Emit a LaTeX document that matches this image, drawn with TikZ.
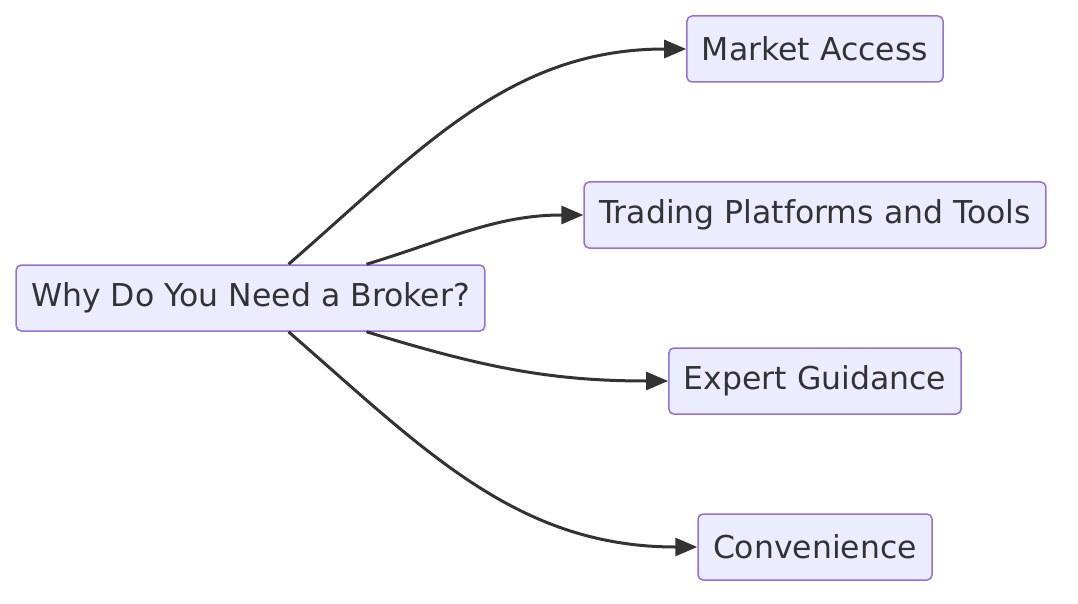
\documentclass[tikz,border=0pt]{standalone}
\usepackage{fontspec}
\setmainfont{DejaVu Sans}
\usepackage{tikz}
\usetikzlibrary{arrows.meta}
\definecolor{nodefill}{HTML}{ECECFF}
\definecolor{nodeline}{HTML}{9370DB}
\definecolor{edgeline}{HTML}{333333}
\begin{document}
\begin{tikzpicture}[x=1pt,y=-1pt,->,>={Triangle[length=22pt,width=18pt]},line width=3pt,main node/.style={rectangle,rounded corners=5pt,fill=nodefill,draw=nodeline,line width=1.5pt,text=edgeline,inner xsep=15pt,minimum height=66pt,font=\fontsize{31.5}{36}\selectfont}]
	\useasboundingbox (0,0) rectangle (1078,604);
	\node[main node] (broker) at (250.5,298) {Why Do You Need a Broker?};
	\node[main node] (access) at (815,49) {Market Access};
	\node[main node] (tools) at (815,215) {Trading Platforms and Tools};
	\node[main node] (guide) at (815,381) {Expert Guidance};
	\node[main node] (conv) at (815,547) {Convenience};
	
	\path[color=edgeline]
		([xshift=38pt]broker.north)	edge [out=41,in=180] (access.west)
		([xshift=116pt]broker.north)	edge [out=17,in=180] (tools.west)
		([xshift=116pt]broker.south)	edge [out=-17,in=180] (guide.west)
		([xshift=38pt]broker.south)	edge [out=-41,in=180] (conv.west);
\end{tikzpicture}
\end{document}
